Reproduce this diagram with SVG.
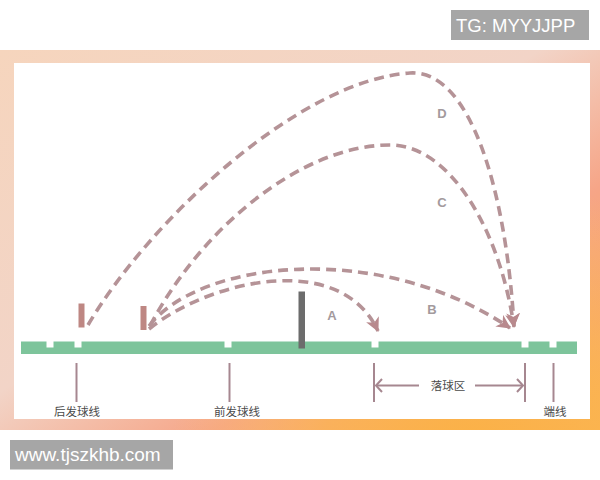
<svg xmlns="http://www.w3.org/2000/svg" width="600" height="480" viewBox="0 0 600 480">
  <defs>
    <linearGradient id="frameGrad" x1="0" y1="0" x2="1" y2="1">
      <stop offset="0" stop-color="#f6d5bd"/>
      <stop offset="0.45" stop-color="#f2d4c7"/>
      <stop offset="0.68" stop-color="#f6a587"/>
      <stop offset="0.85" stop-color="#f8a466"/>
      <stop offset="1" stop-color="#fbb142"/>
    </linearGradient>
    <radialGradient id="glow" gradientUnits="userSpaceOnUse" cx="470" cy="470" r="300">
      <stop offset="0" stop-color="#fbb143" stop-opacity="1"/>
      <stop offset="0.5" stop-color="#fbb553" stop-opacity="0.75"/>
      <stop offset="1" stop-color="#fbc070" stop-opacity="0"/>
    </radialGradient>
    <marker id="arrowTraj" markerUnits="userSpaceOnUse" markerWidth="18" markerHeight="16" refX="13" refY="7" orient="auto">
      <path d="M0,0 L14,7 L0,14 L4,7 Z" fill="#b8898d"/>
    </marker>
    <style>
      .traj { fill: none; stroke: #b59397; stroke-width: 3.6; stroke-dasharray: 10 6; }
      .tick { stroke: #a68790; stroke-width: 2; fill: none; }
      .cn { font-family: "Noto Sans CJK SC", "Noto Sans", sans-serif; font-size: 11.5px; fill: #4a4a4a; text-anchor: middle; }
      .letter { font-family: "Liberation Sans", Arial, sans-serif; font-size: 13px; font-weight: bold; fill: #a39a9d; text-anchor: middle; }
      .wm { font-family: "Liberation Sans", Arial, sans-serif; fill: #ffffff; }
      .notch { fill: #ffffff; }
      .server { fill: #be8783; }
    </style>
  </defs>

  <!-- background frame -->
  <rect x="0" y="0" width="600" height="480" fill="#ffffff"/>
  <rect x="0" y="50" width="600" height="380" fill="url(#frameGrad)"/>
  <rect x="0" y="50" width="600" height="380" fill="url(#glow)"/>
  <rect x="14" y="63" width="576" height="356" fill="#ffffff"/>

  <!-- court ground -->
  <g id="court">
    <rect x="21" y="341.5" width="556" height="12.5" fill="#7dc49b"/>
    <rect class="notch" x="46.5" y="341" width="7" height="6.5"/>
    <rect class="notch" x="74.5" y="341" width="7" height="6.5"/>
    <rect class="notch" x="224.5" y="341" width="7" height="6.5"/>
    <rect class="notch" x="371.5" y="341" width="7" height="6.5"/>
    <rect class="notch" x="521.5" y="341" width="7" height="6.5"/>
    <rect class="notch" x="549.5" y="341" width="7" height="6.5"/>
  </g>

  <g id="net">
    <rect x="298.5" y="291.5" width="6.5" height="57" fill="#6c6c6c"/>
  </g>

  <g id="server-back">
    <rect class="server" x="78.5" y="303.5" width="6" height="24"/>
  </g>
  <g id="server-front">
    <rect class="server" x="140.5" y="306" width="6" height="24"/>
  </g>

  <!-- trajectories -->
  <g id="connectors">
    <path id="traj-D" class="traj" d="M88,325 C150,220 300,80 410,73 C470,69 506,190 514,326" marker-end="url(#arrowTraj)"/>
    <path id="traj-C" class="traj" d="M150,326 C200,230 300,145 390,145 C450,145 500,230 514,327" marker-end="url(#arrowTraj)"/>
    <path id="traj-B" class="traj" d="M149,326 C200,260 380,240 510,328" marker-end="url(#arrowTraj)"/>
    <path id="traj-A" class="traj" d="M149,329 C210,280 340,250 378,331" marker-end="url(#arrowTraj)"/>
  </g>

  <g id="label-A"><text class="letter" x="332" y="319.5">A</text></g>
  <g id="label-B"><text class="letter" x="432" y="313.5">B</text></g>
  <g id="label-C"><text class="letter" x="442" y="207">C</text></g>
  <g id="label-D"><text class="letter" x="442" y="117.5">D</text></g>

  <!-- line markers under the court -->
  <g id="back-service-line">
    <line class="tick" x1="76.5" y1="363" x2="76.5" y2="402"/>
    <text class="cn" x="77" y="416">后发球线</text>
  </g>
  <g id="front-service-line">
    <line class="tick" x1="229.5" y1="363" x2="229.5" y2="402"/>
    <text class="cn" x="237" y="416">前发球线</text>
  </g>
  <g id="landing-zone">
    <line class="tick" x1="374" y1="363" x2="374" y2="402"/>
    <line class="tick" x1="525" y1="363" x2="525" y2="402"/>
    <line class="tick" x1="376" y1="385.5" x2="419" y2="385.5" stroke-width="1.6"/>
    <path class="tick" d="M382,379 L376,385.5 L382,392" stroke-width="1.6"/>
    <line class="tick" x1="475" y1="385.5" x2="523" y2="385.5" stroke-width="1.6"/>
    <path class="tick" d="M517,379 L523,385.5 L517,392" stroke-width="1.6"/>
    <text class="cn" x="448" y="389.5">落球区</text>
  </g>
  <g id="end-line">
    <line class="tick" x1="553.5" y1="363" x2="553.5" y2="402"/>
    <text class="cn" x="555" y="416">端线</text>
  </g>

  <!-- watermarks -->
  <g id="watermark-tg">
    <rect x="451" y="10" width="138" height="30" fill="#a6a6a6"/>
    <text class="wm" x="456" y="32" font-size="18.5">TG: MYYJJPP</text>
  </g>
  <g id="watermark-url">
    <rect x="10" y="440" width="163" height="29.5" fill="#a6a6a6"/>
    <text class="wm" x="15" y="461" font-size="19">www.tjszkhb.com</text>
  </g>
</svg>
